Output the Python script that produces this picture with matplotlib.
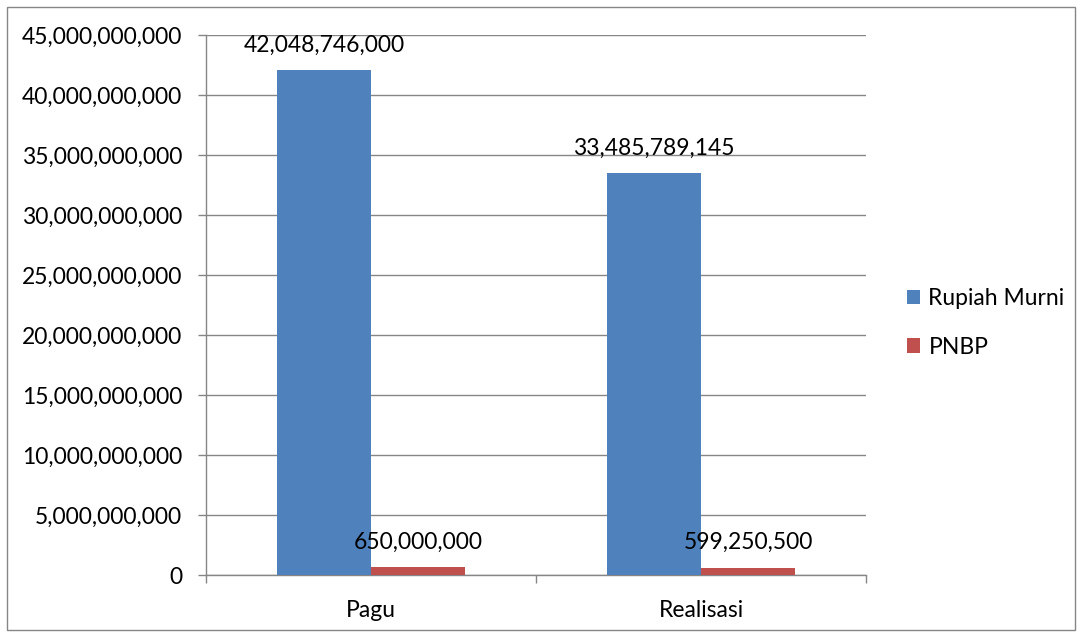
import matplotlib
matplotlib.use("Agg")
import matplotlib.pyplot as plt
from matplotlib.patches import Rectangle
from matplotlib.ticker import FuncFormatter, MultipleLocator
import numpy as np

categories = ["Pagu", "Realisasi"]
series_names = ["Rupiah Murni", "PNBP"]
rupiah_murni = [42048746000, 33485789145]
pnbp = [650000000, 599250500]
colors = ["#4F81BD", "#C0504D"]

plt.rcParams['font.family'] = ['Lato', 'DejaVu Sans']
FS = 16.5

W, H = 1082, 637
fig = plt.figure(figsize=(W / 100, H / 100), dpi=100)
ax = fig.add_axes([206 / W, 1 - 575 / H, (866 - 206) / W, (575 - 35) / H])

x = np.arange(len(categories)) + 0.5
bw = 94 / 330
b1 = ax.bar(x - bw / 2, rupiah_murni, bw, color=colors[0], label=series_names[0], zorder=3)
b2 = ax.bar(x + bw / 2, pnbp, bw, color=colors[1], label=series_names[1], zorder=3)

fmt = lambda v: f"{v:,.0f}"
for bars, vals in ((b1, rupiah_murni), (b2, pnbp)):
    for b, v in zip(bars, vals):
        ax.annotate(fmt(v), (b.get_x() + b.get_width() / 2, v), xytext=(0, 25),
                    textcoords="offset pixels", ha="center", va="center",
                    fontsize=FS, color="black", zorder=4)

ax.set_xlim(0, 2)
ax.set_ylim(0, 45e9)
ax.yaxis.set_major_locator(MultipleLocator(5e9))
ax.yaxis.set_major_formatter(FuncFormatter(lambda v, p: f"{v:,.0f}"))
ax.set_xticks([0, 1, 2])
ax.set_xticks(x, minor=True)
ax.set_xticklabels(["", "", ""])
ax.set_xticklabels(categories, minor=True)
ax.tick_params(axis="x", which="major", length=6, color="#868686", width=1)
ax.tick_params(axis="x", which="minor", length=0, pad=18, labelsize=FS)
ax.tick_params(axis="y", length=6, color="#868686", width=1, labelsize=FS, pad=11)
ax.grid(axis="y", color="#868686", linewidth=1, zorder=0)
ax.set_axisbelow(True)
for s in ("top", "right"):
    ax.spines[s].set_visible(False)
for s in ("left", "bottom"):
    ax.spines[s].set_color("#868686")
    ax.spines[s].set_linewidth(1)

leg = fig.legend(handles=[b1, b2], labels=series_names, loc="center left",
                 bbox_to_anchor=(886 / W, 1 - 323 / H), frameon=False,
                 fontsize=FS, handlelength=0.6, handleheight=0.6,
                 handletextpad=0.35, labelspacing=1.2)

fig.patches.append(Rectangle((7 / W, 1 - 630 / H), (1075 - 7) / W, (630 - 7) / H,
                             transform=fig.transFigure, fill=False,
                             edgecolor="#868686", linewidth=1))

fig.savefig("out.png", dpi=100)
